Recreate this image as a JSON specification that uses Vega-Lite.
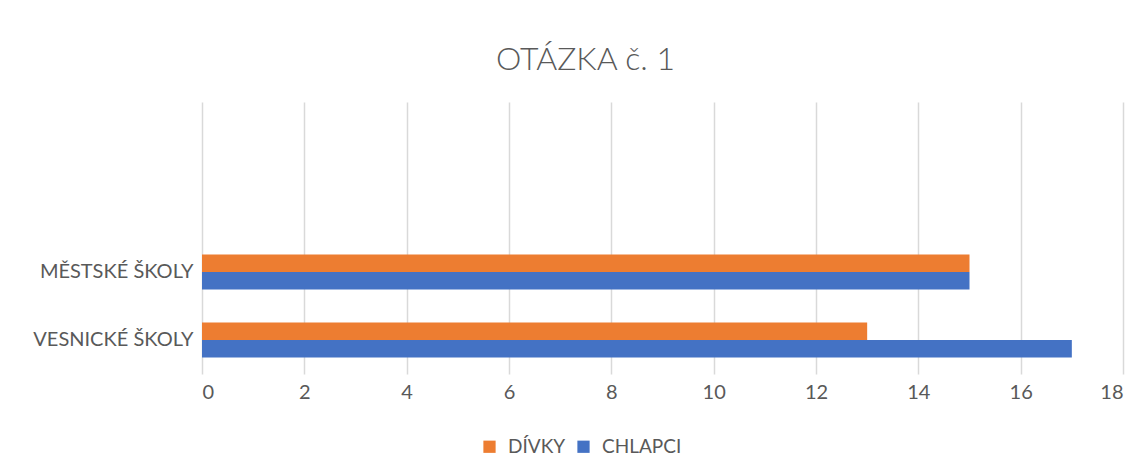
{
  "$schema": "https://vega.github.io/schema/vega-lite/v6.json",
  "autosize": {"type": "none"},
  "width": 921,
  "height": 272,
  "padding": {"left": 202, "top": 102, "right": 24, "bottom": 87},
  "background": "white",
  "title": {
    "text": "OTÁZKA č. 1",
    "font": "Lato",
    "fontSize": 32,
    "fontWeight": 300,
    "color": "#595959",
    "anchor": "middle",
    "dx": -77,
    "offset": 25
  },
  "data": {
    "values": [
      {"skola": "MĚSTSKÉ ŠKOLY", "pohlavi": "DÍVKY", "pocet": 15},
      {"skola": "MĚSTSKÉ ŠKOLY", "pohlavi": "CHLAPCI", "pocet": 15},
      {"skola": "VESNICKÉ ŠKOLY", "pohlavi": "DÍVKY", "pocet": 13},
      {"skola": "VESNICKÉ ŠKOLY", "pohlavi": "CHLAPCI", "pocet": 17}
    ]
  },
  "mark": {"type": "bar"},
  "encoding": {
    "y": {
      "field": "skola",
      "type": "nominal",
      "scale": {
        "domain": ["e2", "e1", "MĚSTSKÉ ŠKOLY", "VESNICKÉ ŠKOLY"],
        "paddingInner": 0.485,
        "paddingOuter": 0.2425
      },
      "axis": {
        "title": null,
        "domain": false,
        "ticks": false,
        "grid": false,
        "labelExpr": "indexof(datum.value, 'ŠKOLY') >= 0 ? datum.value : ''",
        "labelFont": "Lato",
        "labelFontSize": 20,
        "labelColor": "#595959",
        "labelPadding": 9
      }
    },
    "yOffset": {
      "field": "pohlavi",
      "type": "nominal",
      "scale": {"domain": ["DÍVKY", "CHLAPCI"], "paddingInner": 0, "paddingOuter": 0}
    },
    "x": {
      "field": "pocet",
      "type": "quantitative",
      "scale": {"domain": [0, 18], "nice": false},
      "axis": {
        "title": null,
        "values": [0, 2, 4, 6, 8, 10, 12, 14, 16, 18],
        "domain": false,
        "ticks": false,
        "grid": true,
        "gridColor": "#d9d9d9",
        "gridWidth": 1.5,
        "labelFont": "Lato",
        "labelFontSize": 20,
        "labelColor": "#595959",
        "labelPadding": 8
      }
    },
    "color": {
      "field": "pohlavi",
      "type": "nominal",
      "scale": {"domain": ["DÍVKY", "CHLAPCI"], "range": ["#ED7D31", "#4472C4"]},
      "legend": {
        "title": null,
        "orient": "none",
        "direction": "horizontal",
        "legendX": 278,
        "legendY": 335,
        "symbolType": "square",
        "symbolSize": 150,
        "symbolStrokeWidth": 0,
        "labelFont": "Lato",
        "labelFontSize": 19,
        "labelColor": "#595959",
        "columnPadding": 8,
        "labelOffset": 9
      }
    }
  },
  "config": {
    "view": {"stroke": null}
  }
}
